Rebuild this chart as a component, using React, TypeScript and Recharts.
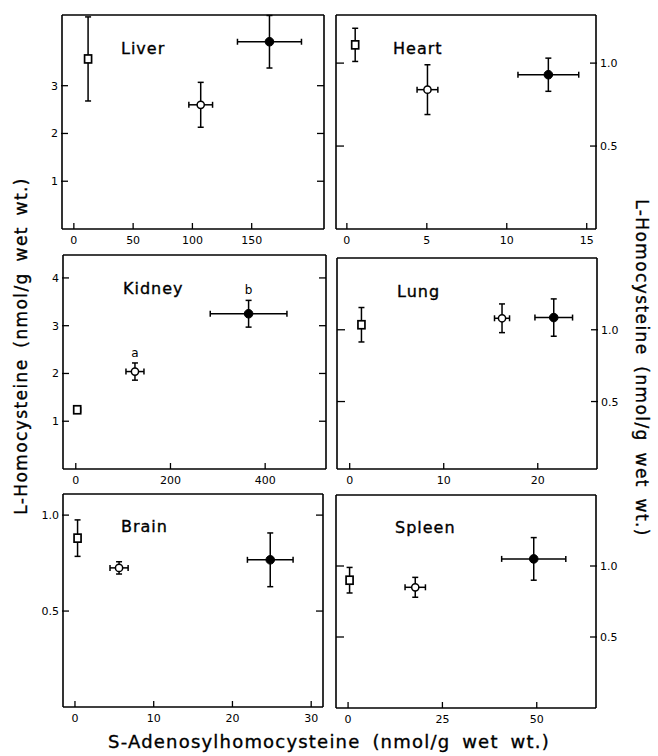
import React from 'react';
import { ScatterChart, Scatter, XAxis, YAxis, ErrorBar } from 'recharts';

// ---------- data ----------
const organs = ['Liver', 'Heart', 'Kidney', 'Lung', 'Brain', 'Spleen'];

// open squares
const squareX = [12, 0.52, 3, 1.25, 0.33, 0.4];
const squareY = [3.56, 1.11, 1.24, 1.035, 0.88, 0.9];
const squareXErr = [2, 0.1, 7, 0.15, 0.2, 0.6];
const squareYErr = [0.88, 0.1, 0.07, 0.12, 0.095, 0.09];

// open circles
const openX = [107, 5.04, 125, 16.2, 5.6, 17.8];
const openY = [2.6, 0.84, 2.04, 1.08, 0.725, 0.85];
const openXErr = [10, 0.65, 19, 0.8, 1.15, 2.7];
const openYErr = [0.47, 0.15, 0.18, 0.1, 0.032, 0.07];
const openNote = ['', '', 'a', '', '', ''];

// filled circles
const filledX = [165, 12.6, 365, 21.7, 24.8, 49.2];
const filledY = [3.92, 0.93, 3.25, 1.085, 0.767, 1.05];
const filledXErr = [27, 1.9, 81, 2.0, 2.9, 8.5];
const filledYErr = [0.55, 0.1, 0.28, 0.13, 0.14, 0.15];
const filledNote = ['', '', 'b', '', '', ''];

// axis ticks
const xTicks = [[0, 50, 100, 150], [0, 5, 10, 15], [0, 200, 400], [0, 10, 20], [0, 10, 20, 30], [0, 25, 50]];
const yTicks = [[1, 2, 3], [0.5, 1.0], [1, 2, 3, 4], [0.5, 1.0], [0.5, 1.0], [0.5, 1.0]];
const yDecimals = [0, 1, 0, 1, 1, 1];
const xDomains = [[-10, 211], [-0.68, 15.58], [-27, 528.5], [-1.35, 26.3], [-1.52, 31.5], [-3.2, 65.7]];
const yDomains = [[0, 4.48], [0, 1.29], [0, 4.48], [0.03, 1.5], [0, 1.11], [0, 1.5]];

const yTitle = 'L-Homocysteine (nmol/g wet wt.)';
const xTitle = 'S-Adenosylhomocysteine (nmol/g wet wt.)';

// ---------- layout (plot boxes in page pixels) ----------
const boxes = [
  { l: 62, t: 15, w: 262, h: 214, side: 'left' },
  { l: 336, t: 15, w: 260, h: 214, side: 'right' },
  { l: 63, t: 255, w: 263, h: 214, side: 'left' },
  { l: 337, t: 258, w: 260, h: 211, side: 'right' },
  { l: 63, t: 494, w: 260, h: 213, side: 'left' },
  { l: 336, t: 495, w: 260, h: 213, side: 'right' },
];
const titlePos = [
  { x: 121, y: 54 },
  { x: 393, y: 54 },
  { x: 123, y: 294 },
  { x: 397, y: 297 },
  { x: 121, y: 532 },
  { x: 395, y: 533 },
];

const FONT = "'DejaVu Sans', Verdana, sans-serif";
const INK = '#000';
const M = { top: 6, right: 40, bottom: 26, left: 40 };
const AX = 1; // axis thickness reserved by recharts (must be > 0)

const fmt = (v: number, d: number) => (d ? Number(v).toFixed(d) : String(v));

const XTick = (p: any) => {
  const { x, y, payload } = p;
  return (
    <g>
      <line x1={x} x2={x} y1={y} y2={y - 6} stroke={INK} strokeWidth={1.3} />
      <text x={x} y={y + 15} textAnchor="middle" fontSize={11} fontFamily={FONT} fill={INK}>
        {String(payload.value)}
      </text>
    </g>
  );
};

const makeYTickLabelLeft = (d: number) => (p: any) => {
  const { x, y, payload } = p;
  return (
    <g>
      <line x1={x - 1} x2={x + 6} y1={y} y2={y} stroke={INK} strokeWidth={1.3} />
      <text x={x - 4} y={y + 4} textAnchor="end" fontSize={11} fontFamily={FONT} fill={INK}>
        {fmt(payload.value, d)}
      </text>
    </g>
  );
};
const makeYTickLabelRight = (d: number) => (p: any) => {
  const { x, y, payload } = p;
  return (
    <g>
      <line x1={x - 6} x2={x + 1} y1={y} y2={y} stroke={INK} strokeWidth={1.3} />
      <text x={x + 4} y={y + 4} textAnchor="start" fontSize={11} fontFamily={FONT} fill={INK}>
        {fmt(payload.value, d)}
      </text>
    </g>
  );
};
const InTickFromRight = (p: any) => {
  const { x, y } = p;
  return <line x1={x - 7} x2={x} y1={y} y2={y} stroke={INK} strokeWidth={1.3} />;
};
const InTickFromLeft = (p: any) => {
  const { x, y } = p;
  return <line x1={x} x2={x + 8} y1={y} y2={y} stroke={INK} strokeWidth={1.3} />;
};

const SquareShape = (p: any) => {
  const { cx, cy } = p;
  if (cx == null || cy == null) return null;
  return <rect x={cx - 3.5} y={cy - 4} width={7} height={8} fill="#fff" stroke={INK} strokeWidth={1.7} />;
};
const OpenShape = (p: any) => {
  const { cx, cy } = p;
  if (cx == null || cy == null) return null;
  return <circle cx={cx} cy={cy} r={3.6} fill="#fff" stroke={INK} strokeWidth={1.5} />;
};
const FilledShape = (p: any) => {
  const { cx, cy } = p;
  if (cx == null || cy == null) return null;
  return <circle cx={cx} cy={cy} r={4.3} fill={INK} stroke={INK} strokeWidth={1} />;
};
const NoteShape = (p: any) => {
  const { cx, cy, payload } = p;
  if (cx == null || cy == null || !payload || !payload.note) return null;
  return (
    <text x={cx} y={cy - 6} textAnchor="middle" fontSize={12} fontFamily={FONT} fill={INK}>
      {payload.note}
    </text>
  );
};

const errProps = { stroke: INK, strokeWidth: 1.5, width: 3 };
const axisLine = { stroke: INK, strokeWidth: 1.6 };

function Panel({ i }: { i: number }) {
  const b = boxes[i];
  const sq = [{ x: squareX[i], y: squareY[i], ex: squareXErr[i], ey: squareYErr[i] }];
  const op = [{ x: openX[i], y: openY[i], ex: openXErr[i], ey: openYErr[i] }];
  const fi = [{ x: filledX[i], y: filledY[i], ex: filledXErr[i], ey: filledYErr[i] }];
  const notes = [
    { x: openX[i], y: openY[i] + openYErr[i], note: openNote[i] },
    { x: filledX[i], y: filledY[i] + filledYErr[i], note: filledNote[i] },
  ].filter((n) => n.note);
  const d = yDecimals[i];
  const left = b.side === 'left';
  return (
    <div style={{ position: 'absolute', left: b.l - M.left - AX, top: b.t - M.top - AX }}>
      <ScatterChart
        width={b.w + M.left + M.right + 2 * AX}
        height={b.h + M.top + M.bottom + 2 * AX}
        margin={M}
      >
        <XAxis
          type="number"
          dataKey="x"
          xAxisId={0}
          domain={xDomains[i]}
          ticks={xTicks[i]}
          allowDataOverflow
          height={AX}
          tickSize={0}
          tickMargin={0}
          tickLine={false}
          axisLine={axisLine}
          tick={XTick}
          interval={0}
        />
        <XAxis
          type="number"
          xAxisId="top"
          orientation="top"
          domain={xDomains[i]}
          allowDataOverflow
          height={AX}
          tick={false}
          tickLine={false}
          axisLine={axisLine}
        />
        <YAxis
          type="number"
          dataKey="y"
          yAxisId={0}
          domain={yDomains[i]}
          ticks={yTicks[i]}
          allowDataOverflow
          width={AX}
          tickSize={0}
          tickMargin={0}
          tickLine={false}
          axisLine={axisLine}
          tick={left ? makeYTickLabelLeft(d) : InTickFromLeft}
          interval={0}
        />
        <YAxis
          type="number"
          yAxisId="r"
          orientation="right"
          domain={yDomains[i]}
          ticks={yTicks[i]}
          allowDataOverflow
          width={AX}
          tickSize={0}
          tickMargin={0}
          tickLine={false}
          axisLine={axisLine}
          tick={left ? InTickFromRight : makeYTickLabelRight(d)}
          interval={0}
        />
        <Scatter data={sq} shape={SquareShape} isAnimationActive={false}>
          <ErrorBar dataKey="ex" direction="x" {...errProps} />
          <ErrorBar dataKey="ey" direction="y" {...errProps} />
        </Scatter>
        <Scatter data={op} shape={OpenShape} isAnimationActive={false}>
          <ErrorBar dataKey="ex" direction="x" {...errProps} />
          <ErrorBar dataKey="ey" direction="y" {...errProps} />
        </Scatter>
        <Scatter data={fi} shape={FilledShape} isAnimationActive={false}>
          <ErrorBar dataKey="ex" direction="x" {...errProps} />
          <ErrorBar dataKey="ey" direction="y" {...errProps} />
        </Scatter>
        {notes.length > 0 && <Scatter data={notes} shape={NoteShape} isAnimationActive={false} />}
      </ScatterChart>
    </div>
  );
}

const titleStyle = { stroke: INK, strokeWidth: 0.35 };

export default function App() {
  return (
    <div style={{ position: 'absolute', left: 0, top: 0, width: 658, height: 756, background: '#fff' }}>
      {organs.map((_, i) => (
        <Panel key={i} i={i} />
      ))}
      <svg
        width={658}
        height={756}
        style={{ position: 'absolute', left: 0, top: 0, pointerEvents: 'none' }}
      >
        {organs.map((name, i) => (
          <text
            key={name}
            x={titlePos[i].x}
            y={titlePos[i].y}
            fontSize={16}
            letterSpacing={1}
            fontFamily={FONT}
            fill={INK}
            {...titleStyle}
          >
            {name}
          </text>
        ))}
        <text
          transform="translate(21,346) rotate(-90)"
          textAnchor="middle"
          dominantBaseline="central"
          fontSize={17}
          letterSpacing={1.4}
          wordSpacing={4}
          fontFamily={FONT}
          fill={INK}
          {...titleStyle}
        >
          {yTitle}
        </text>
        <text
          transform="translate(642,368) rotate(90)"
          textAnchor="middle"
          dominantBaseline="central"
          fontSize={17}
          letterSpacing={1.4}
          wordSpacing={4}
          fontFamily={FONT}
          fill={INK}
          {...titleStyle}
        >
          {yTitle}
        </text>
        <text
          x={329}
          y={748}
          textAnchor="middle"
          fontSize={18}
          letterSpacing={1.2}
          wordSpacing={5}
          fontFamily={FONT}
          fill={INK}
          {...titleStyle}
        >
          {xTitle}
        </text>
      </svg>
    </div>
  );
}
